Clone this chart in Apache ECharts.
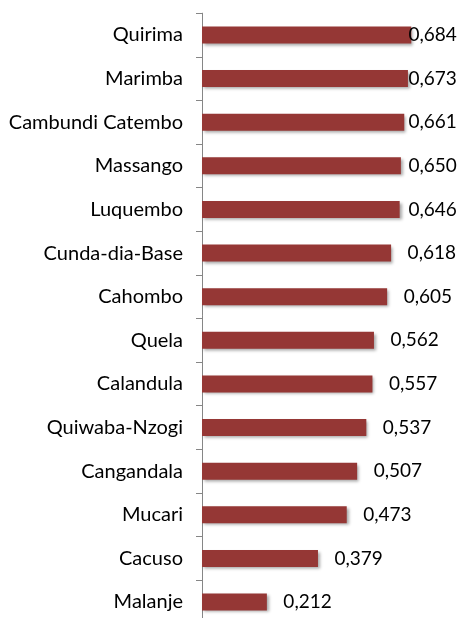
<!DOCTYPE html>
<html>
<head>
<meta charset="utf-8">
<script src="https://cdn.jsdelivr.net/npm/echarts@6/dist/echarts.min.js"></script>
<style>
  html, body { margin: 0; padding: 0; background: #fff; }
  #chart { width: 459px; height: 618px; }
</style>
</head>
<body>
<div id="chart"></div>
<script>
// Municipalities, listed bottom to top as the category axis draws them
const municipalities = [
  'Malanje', 'Cacuso', 'Mucari', 'Cangandala', 'Quiwaba-Nzogi', 'Calandula',
  'Quela', 'Cahombo', 'Cunda-dia-Base', 'Luquembo', 'Massango',
  'Cambundi Catembo', 'Marimba', 'Quirima'
];
const indexValues = [
  0.212, 0.379, 0.473, 0.507, 0.537, 0.557,
  0.562, 0.605, 0.618, 0.646, 0.650,
  0.661, 0.673, 0.684
];

const FONT = 'Lato, "Noto Sans", sans-serif';
const chart = echarts.init(document.getElementById('chart'), null, { renderer: 'canvas' });

const fmt = v => v.toFixed(3).replace('.', ',');

const baseOption = {
  animation: false,
  grid: {
    left: 202, top: 13.2, width: 244.8, height: 610.6,
    containLabel: false, outerBoundsMode: 'none'
  },
  xAxis: {
    type: 'value', min: 0, max: 0.8,
    show: false
  },
  yAxis: {
    type: 'category',
    data: municipalities,
    axisLine: { show: true, lineStyle: { color: '#868686', width: 1 } },
    axisTick: { show: true, length: 6, inside: false, lineStyle: { color: '#868686' } },
    axisLabel: { margin: 19, color: '#000', fontFamily: FONT, fontSize: 20 },
    splitLine: { show: false }
  },
  series: [{
    type: 'bar',
    data: indexValues,
    barWidth: 17,
    itemStyle: {
      color: '#953735',
      shadowColor: 'rgba(0,0,0,0.35)',
      shadowBlur: 3,
      shadowOffsetX: 2,
      shadowOffsetY: 2
    },
    label: {
      show: true,
      position: 'right',
      distance: 16,
      color: '#000',
      fontFamily: FONT,
      fontSize: 19,
      formatter: p => fmt(p.value)
    }
  }]
};
chart.setOption(baseOption);

// Keep value labels from running past the right margin: labels near the
// longest bars sit closer to (or slightly over) the bar end.
const labelLimit = 408.5;
const items = indexValues.map(v => {
  const end = chart.convertToPixel({ xAxisIndex: 0 }, v);
  const d = Math.min(16.5, labelLimit - end);
  return { value: v, label: { distance: d } };
});
chart.setOption({ series: [{ data: items }] });
</script>
</body>
</html>
